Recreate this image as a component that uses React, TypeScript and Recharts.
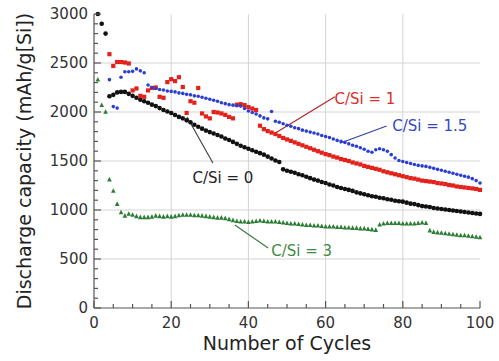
import {
  ReferenceDot,
  ReferenceLine,
  Scatter,
  ScatterChart,
  XAxis,
  YAxis,
} from "recharts";

// cycle number for each value below (1..100)
const cycles = Array.from({ length: 100 }, (_, i) => i + 1);

// Discharge capacity (mAh/g[Si]), one value per cycle
const cSi0 = [
  3000, 2900, 2800, 2160, 2175, 2200, 2205, 2205, 2185, 2165,
  2145, 2125, 2110, 2095, 2075, 2060, 2040, 2020, 2005, 1990,
  1970, 1950, 1935, 1915, 1895, 1870, 1850, 1830, 1810, 1795,
  1780, 1765, 1750, 1730, 1715, 1695, 1675, 1655, 1640, 1625,
  1610, 1595, 1580, 1565, 1545, 1525, 1505, 1490, 1415, 1400,
  1390, 1380, 1365, 1355, 1340, 1325, 1310, 1300, 1285, 1275,
  1260, 1250, 1235, 1225, 1215, 1205, 1195, 1180, 1170, 1160,
  1150, 1140, 1135, 1125, 1120, 1110, 1105, 1095, 1090, 1085,
  1075, 1065, 1060, 1050, 1040, 1035, 1030, 1020, 1015, 1010,
  1005, 1000, 995, 990, 985, 980, 975, 970, 965, 960,
];

const cSi1 = [
  null, null, null, 2590, 2470, 2510, 2510, 2505, 2495, 2220,
  2240, 2165, 2155, 2220, 2245, 2250, 2155, 2145, 2305, 2335,
  2315, 2355, 2255, 1990, 2110, 2095, 2245, 1985, 1955, 1935,
  2000, 1995, 1985, 1970, 1950, 1935, 2075, 2080, 2070, 2050,
  2035, 2020, 1860, 1825, 1805, 1790, 1775, 1755, 1735, 1720,
  1705, 1690, 1675, 1660, 1645, 1630, 1615, 1600, 1585, 1570,
  1560, 1545, 1535, 1520, 1510, 1500, 1485, 1475, 1465, 1450,
  1440, 1430, 1420, 1410, 1395, 1385, 1375, 1365, 1355, 1345,
  1335, 1325, 1320, 1310, 1300, 1295, 1290, 1285, 1275, 1270,
  1265, 1255, 1250, 1240, 1235, 1230, 1225, 1220, 1215, 1205,
];

const cSi15 = [
  null, null, null, 2330, 2055, 2040, 2355, 2410, 2410, 2415,
  2440, 2420, 2400, 2275, 2250, 2240, 2230, 2225, 2215, 2210,
  2205, 2195, 2190, 2180, 2175, 2165, 2160, 2150, 2140, 2130,
  2120, 2110, 2095, 2085, 2075, 2070, 2065, 2060, 2035, 2010,
  1995, 1980, 1960, 1940, 1930, 2005, 1905, 1895, 1880, 1865,
  1855, 1840, 1830, 1815, 1805, 1795, 1785, 1775, 1760, 1750,
  1740, 1725, 1710, 1700, 1690, 1675, 1660, 1650, 1635, 1620,
  1600, 1590, 1615, 1625, 1615, 1600, 1565, 1530, 1505, 1495,
  1485, 1475, 1465, 1455, 1450, 1445, 1435, 1425, 1415, 1405,
  1395, 1385, 1375, 1365, 1355, 1345, 1335, 1320, 1300, 1275,
];

const cSi3 = [
  2330, 2070, 2000, 1310, 1195, 1060, 975, 940, 960, 950,
  935, 925, 925, 925, 930, 940, 935, 930, 935, 930,
  935, 945, 950, 950, 950, 945, 945, 940, 935, 930,
  925, 920, 920, 915, 905, 895, 885, 880, 880, 875,
  880, 885, 890, 885, 880, 880, 880, 875, 870, 865,
  860, 860, 855, 850, 845, 845, 840, 840, 835, 830,
  830, 830, 825, 825, 820, 820, 815, 815, 810, 810,
  805, 800, 795, 850, 860, 865, 865, 865, 865, 860,
  860, 860, 860, 865, 870, 865, 790, 775, 770, 765,
  760, 755, 750, 745, 740, 740, 735, 730, 725, 720,
];

const xTicks = [0, 5, 10, 15, 20, 25, 30, 35, 40, 45, 50, 55, 60, 65, 70, 75, 80, 85, 90, 95, 100];
const yTicks = Array.from({ length: 31 }, (_, i) => i * 100);
const gridX = [20, 40, 60, 80];
const gridY = [500, 1000, 1500, 2000, 2500];

const toPoints = (vals: (number | null)[]) =>
  vals
    .map((v, i) => ({ cycle: cycles[i], cap: v }))
    .filter((p) => p.cap !== null);

const FONT = "'DejaVu Sans', Verdana, sans-serif";
const AXIS = "#555";

const BottomTick = (props: any) => {
  const { x, y, payload } = props;
  const major = payload.value % 20 === 0;
  return (
    <g>
      <line x1={x} x2={x} y1={y} y2={y - (major ? 7 : 4)} stroke={AXIS} strokeWidth={1.2} />
      {major && (
        <text x={x} y={y + 20} textAnchor="middle" fontSize={15} fill="#333" fontFamily={FONT}>
          {payload.value}
        </text>
      )}
    </g>
  );
};

const TopTick = (props: any) => {
  const { x, y, payload } = props;
  const major = payload.value % 20 === 0;
  return <line x1={x} x2={x} y1={y} y2={y + (major ? 7 : 4)} stroke={AXIS} strokeWidth={1.2} />;
};

const LeftTick = (props: any) => {
  const { x, y, payload } = props;
  const major = payload.value % 500 === 0;
  return (
    <g>
      <line x1={x} x2={x + (major ? 7 : 4)} y1={y} y2={y} stroke={AXIS} strokeWidth={1.2} />
      {major && (
        <text x={x - 6} y={y + 5} textAnchor="end" fontSize={15} fill="#333" fontFamily={FONT}>
          {payload.value}
        </text>
      )}
    </g>
  );
};

const RightTick = (props: any) => {
  const { x, y, payload } = props;
  const major = payload.value % 500 === 0;
  return <line x1={x} x2={x - (major ? 7 : 4)} y1={y} y2={y} stroke={AXIS} strokeWidth={1.2} />;
};

const circle = (color: string, r: number) => (p: any) =>
  <circle cx={p.cx} cy={p.cy} r={r} fill={color} />;
const square = (color: string, s: number) => (p: any) =>
  <rect x={p.cx - s / 2} y={p.cy - s / 2} width={s} height={s} fill={color} />;
const triangle = (color: string, s: number) => (p: any) =>
  (
    <polygon
      points={`${p.cx},${p.cy - s * 0.6} ${p.cx - s / 2},${p.cy + s * 0.4} ${p.cx + s / 2},${p.cy + s * 0.4}`}
      fill={color}
    />
  );

const note = (value: string, color: string) => ({
  value,
  position: "center" as const,
  fill: color,
  fontSize: 15,
  fontFamily: FONT,
});

export default function App() {
  return (
    <div style={{ position: "fixed", left: 0, top: 0, background: "#fff" }}>
      <ScatterChart width={499} height={361} margin={{ top: 14, right: 19, bottom: 0, left: 0 }}>
        {gridX.map((v) => (
          <ReferenceLine key={"gx" + v} x={v} stroke="#d4d4d4" strokeWidth={1} />
        ))}
        {gridY.map((v) => (
          <ReferenceLine key={"gy" + v} y={v} stroke="#d4d4d4" strokeWidth={1} />
        ))}
        <XAxis
          dataKey="cycle"
          type="number"
          domain={[0, 100]}
          ticks={xTicks}
          interval={0}
          tickSize={0}
          tickMargin={0}
          height={53}
          axisLine={{ stroke: AXIS, strokeWidth: 1.2 }}
          tick={BottomTick}
          label={{
            value: "Number of Cycles",
            position: "insideBottom",
            offset: 11,
            fontSize: 19,
            fill: "#222",
            fontFamily: FONT,
          }}
        />
        <XAxis
          xAxisId="top"
          orientation="top"
          type="number"
          domain={[0, 100]}
          ticks={xTicks}
          interval={0}
          tickSize={0}
          tickMargin={0}
          height={0}
          axisLine={{ stroke: AXIS, strokeWidth: 1.2 }}
          tick={TopTick}
        />
        <YAxis
          dataKey="cap"
          type="number"
          domain={[0, 3000]}
          ticks={yTicks}
          interval={0}
          tickSize={0}
          tickMargin={0}
          width={94}
          axisLine={{ stroke: AXIS, strokeWidth: 1.2 }}
          tick={LeftTick}
          label={{
            value: "Discharge capacity (mAh/g[Si])",
            angle: -90,
            position: "insideLeft",
            offset: 24,
            fontSize: 19,
            fill: "#222",
            fontFamily: FONT,
            style: { textAnchor: "middle" },
          }}
        />
        <YAxis
          yAxisId="right"
          orientation="right"
          type="number"
          domain={[0, 3000]}
          ticks={yTicks}
          interval={0}
          tickSize={0}
          tickMargin={0}
          width={0}
          axisLine={{ stroke: AXIS, strokeWidth: 1.2 }}
          tick={RightTick}
        />

        <Scatter data={toPoints(cSi3)} shape={triangle("#2b7d34", 4.6)} isAnimationActive={false} />
        <Scatter data={toPoints(cSi0)} shape={circle("#111", 2.3)} isAnimationActive={false} />
        <Scatter data={toPoints(cSi1)} shape={square("#e3221b", 4.2)} isAnimationActive={false} />
        <Scatter data={toPoints(cSi15)} shape={circle("#2c3fd0", 1.8)} isAnimationActive={false} />

        <ReferenceLine segment={[{ x: 24.1, y: 1949 }, { x: 30.8, y: 1480 }]} stroke="#444" strokeWidth={1.2} />
        <ReferenceLine segment={[{ x: 46.9, y: 1783 }, { x: 62.4, y: 2156 }]} stroke="#b3262a" strokeWidth={1.2} />
        <ReferenceLine segment={[{ x: 63.7, y: 1681 }, { x: 75.8, y: 1857 }]} stroke="#33409f" strokeWidth={1.2} />
        <ReferenceLine segment={[{ x: 36.5, y: 847 }, { x: 45.1, y: 612 }]} stroke="#3d7a44" strokeWidth={1.2} />

        <ReferenceDot x={33.4} y={1327} r={0} fill="none" stroke="none" label={note("C/Si = 0", "#222")} />
        <ReferenceDot x={70.2} y={2133} r={0} fill="none" stroke="none" label={note("C/Si = 1", "#d8302a")} />
        <ReferenceDot x={87.0} y={1857} r={0} fill="none" stroke="none" label={note("C/Si = 1.5", "#3448c4")} />
        <ReferenceDot x={53.8} y={582} r={0} fill="none" stroke="none" label={note("C/Si = 3", "#3f8a45")} />
      </ScatterChart>
    </div>
  );
}
